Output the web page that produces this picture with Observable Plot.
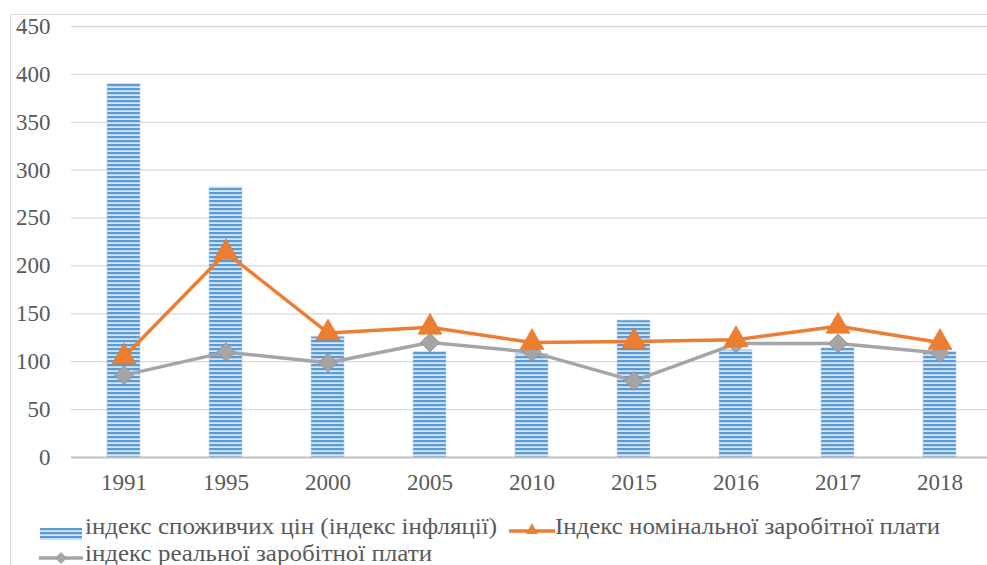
<!DOCTYPE html>
<html>
<head>
<meta charset="utf-8">
<script src="https://cdn.jsdelivr.net/npm/d3@7"></script>
<script src="https://cdn.jsdelivr.net/npm/@observablehq/plot@0.6"></script>
<style>
  html, body { margin: 0; padding: 0; background: #fff; overflow: hidden; }
  #wrap { position: relative; width: 987px; height: 565px; overflow: hidden; }
  #frame { position: absolute; left: 10px; top: 14px; width: 1100px; height: 700px; border: 1px solid #d9d9d9; box-sizing: border-box; }
  #chart { position: absolute; left: 0; top: 0; }
  #chart svg text { font-family: "Liberation Serif", "Times New Roman", serif; font-size: 23px; }
  #legend { position: absolute; left: 0; top: 505px; width: 987px; height: 60px; font-family: "Liberation Serif", "Times New Roman", serif; font-size: 24px; color: #595959; }
  .sw { position: absolute; }
  .lt { position: absolute; white-space: nowrap; transform-origin: 0 0; line-height: 26px; }
</style>
</head>
<body>
<div id="wrap">
  <div id="frame"></div>
  <div id="chart"></div>
  <div id="legend"></div>
</div>
<script>
const years = ["1991", "1995", "2000", "2005", "2010", "2015", "2016", "2017", "2018"];
const cpi = [390, 282, 126, 110, 108, 143, 112, 114, 110];
const nominal = [105, 214, 130, 136, 120, 121, 123, 137, 120];
const real = [86, 110, 99, 120, 110, 80, 119, 119, 109];
const yTicks = [0, 50, 100, 150, 200, 250, 300, 350, 400, 450];
const seriesNames = ["індекс споживчих цін (індекс інфляції)", "Індекс номінальної заробітної плати", "індекс реальної заробітної плати"];

const data = years.map((year, i) => ({year, cpi: cpi[i], nominal: nominal[i], real: real[i]}));

const svg = Plot.plot({
  width: 987,
  height: 505,
  marginTop: 26,
  marginBottom: 48,
  marginLeft: 71,
  marginRight: 0,
  style: "background: transparent; overflow: visible; color: #595959;",
  x: {domain: years, range: [71, 991], paddingInner: 0.68, paddingOuter: 0.34, label: null},
  y: {domain: [0, 450], label: null},
  marks: [
    Plot.ruleY(yTicks.filter(d => d > 0), {stroke: "#d9d9d9", strokeWidth: 1.3}),
    Plot.barY(data, {x: "year", y: "cpi", fill: "url(#hatch)", stroke: "#bcd4ee", strokeWidth: 0.6}),
    Plot.ruleY([0], {stroke: "#bfbfbf", strokeWidth: 2}),
    Plot.axisY({ticks: yTicks, tickSize: 0, tickPadding: 21, fill: "#595959", fontFamily: "Liberation Serif", fontSize: 23}),
    Plot.axisX({tickSize: 0, tickPadding: 16, fill: "#595959", fontFamily: "Liberation Serif", fontSize: 23}),
    Plot.lineY(data, {x: "year", y: "real", stroke: "#a5a5a5", strokeWidth: 3.5}),
    Plot.dot(data, {x: "year", y: "real", symbol: "diamond2", r: 8.5, fill: "#a5a5a5", stroke: "#8c8c8c", strokeWidth: 0.8}),
    Plot.lineY(data, {x: "year", y: "nominal", stroke: "#ed7d31", strokeWidth: 3.5}),
    Plot.dot(data, {x: "year", y: "nominal", symbol: "triangle", r: 9, fill: "#ed7d31", stroke: "#e07020", strokeWidth: 0.5})
  ]
});

const ns = "http://www.w3.org/2000/svg";
const defs = document.createElementNS(ns, "defs");
defs.innerHTML = '<pattern id="hatch" width="4" height="4" patternUnits="userSpaceOnUse"><rect width="4" height="4" fill="#d6e5f5"/><rect width="4" height="2.2" fill="#5b9bd5"/></pattern>';
svg.insertBefore(defs, svg.firstChild);
document.getElementById("chart").appendChild(svg);

// Legend
const legend = document.getElementById("legend");
const swatches = [
  '<svg width="42" height="12"><defs><pattern id="hatchL" width="4" height="4" patternUnits="userSpaceOnUse"><rect width="4" height="4" fill="#d6e5f5"/><rect width="4" height="2.2" fill="#5b9bd5"/></pattern></defs><rect x="0" y="0" width="42" height="12" fill="url(#hatchL)"/></svg>',
  '<svg width="46" height="16"><line x1="0" y1="10" x2="46" y2="10" stroke="#ed7d31" stroke-width="3.5"/><path d="M23,2 L29,13 L17,13 Z" fill="#ed7d31"/></svg>',
  '<svg width="44" height="16"><line x1="0" y1="8" x2="44" y2="8" stroke="#a5a5a5" stroke-width="3.5"/><path d="M22,2 L28,8 L22,14 L16,8 Z" fill="#a5a5a5"/></svg>'
];
// [swatch x, swatch y, text x, text y, text width]
const positions = [[40, 14, 85, 8, 412], [509, 11, 555, 8, 385], [39, 40, 85, 35, 347]];
seriesNames.forEach((name, i) => {
  const [sx, sy, tx, ty, tw] = positions[i];
  const sw = document.createElement("div");
  sw.className = "sw";
  sw.style.left = sx + "px";
  sw.style.top = sy + "px";
  sw.innerHTML = swatches[i];
  legend.appendChild(sw);
  const t = document.createElement("div");
  t.className = "lt";
  t.style.left = tx + "px";
  t.style.top = ty + "px";
  t.textContent = name;
  legend.appendChild(t);
  const w = t.getBoundingClientRect().width;
  if (w > 0) t.style.transform = "scaleX(" + (tw / w) + ")";
});
</script>
</body>
</html>
